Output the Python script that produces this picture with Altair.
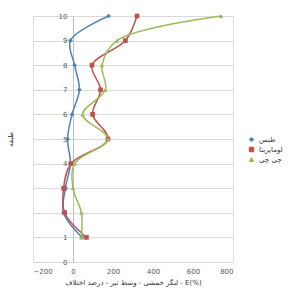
import altair as alt
import pandas as pd

stories = [10, 9, 8, 7, 6, 5, 4, 3, 2, 1]
tabas = [178, -13, 8, 32, -5, -27, -13, -38, -47, 45]
loma = [320, 262, 95, 138, 98, 175, -10, -47, -42, 67]
chichi = [740, 220, 145, 162, 48, 175, 8, 0, 42, 42]
series_names = ["طبس", "لوماپریتا", "چی چی"]
colors = ["#4F81BD", "#C0504D", "#9BBB59"]
shapes = ["diamond", "square", "triangle-up"]

rows = []
for name, vals in zip(series_names, [tabas, loma, chichi]):
    for s, v in zip(stories, vals):
        rows.append({"series": name, "story": s, "E": v})
df = pd.DataFrame(rows)

font = "DejaVu Sans"
W, H = 200, 246

x = alt.X("E:Q", scale=alt.Scale(domain=[-200, 800], nice=False),
          axis=alt.Axis(values=[-200, 0, 200, 400, 600, 800], grid=False, domain=False,
                        ticks=False, labelFontSize=7, labelColor="#595959", labelPadding=5,
                        title="لنگر خمشی - وسط تیر - درصد اختلاف - E(%)",
                        titleFontSize=7, titleFontWeight="normal", titleColor="#333333",
                        titlePadding=4))
y = alt.Y("story:Q", scale=alt.Scale(domain=[0, 10], nice=False),
          axis=alt.Axis(values=list(range(0, 11)), grid=True, gridColor="#D9D9D9",
                        domain=True, domainColor="#BFBFBF", ticks=False,
                        offset=-40, labelFontSize=7, labelColor="#595959", labelPadding=6,
                        title="طبقه", titleFontSize=7, titleFontWeight="normal",
                        titleColor="#333333", titleX=-60, titleY=123, titleAngle=-90))
color = alt.Color("series:N", scale=alt.Scale(domain=series_names, range=colors),
                  legend=alt.Legend(title=None, orient="none", legendX=215, legendY=120,
                                    labelFontSize=7, labelColor="#333333", symbolSize=20,
                                    rowPadding=1, symbolStrokeWidth=1))
shape = alt.Shape("series:N", scale=alt.Scale(domain=series_names, range=shapes), legend=None)

base = alt.Chart(df)
lines = base.mark_line(interpolate="catmull-rom", strokeWidth=1.5).encode(
    x=x, y=y, color=color, order="story:Q", detail="series:N")
points = base.mark_point(filled=True, size=22, opacity=1).encode(
    x=x, y=y, color=color, shape=shape)

chart = alt.layer(lines, points).properties(
    width=W, height=H,
    padding={"left": 25, "top": 8, "right": 63, "bottom": 28},
    autosize=alt.AutoSizeParams(type="none"),
).configure_view(stroke=None).configure(font=font)

chart.save("out.html", embed_options={"renderer": "svg", "actions": False})
